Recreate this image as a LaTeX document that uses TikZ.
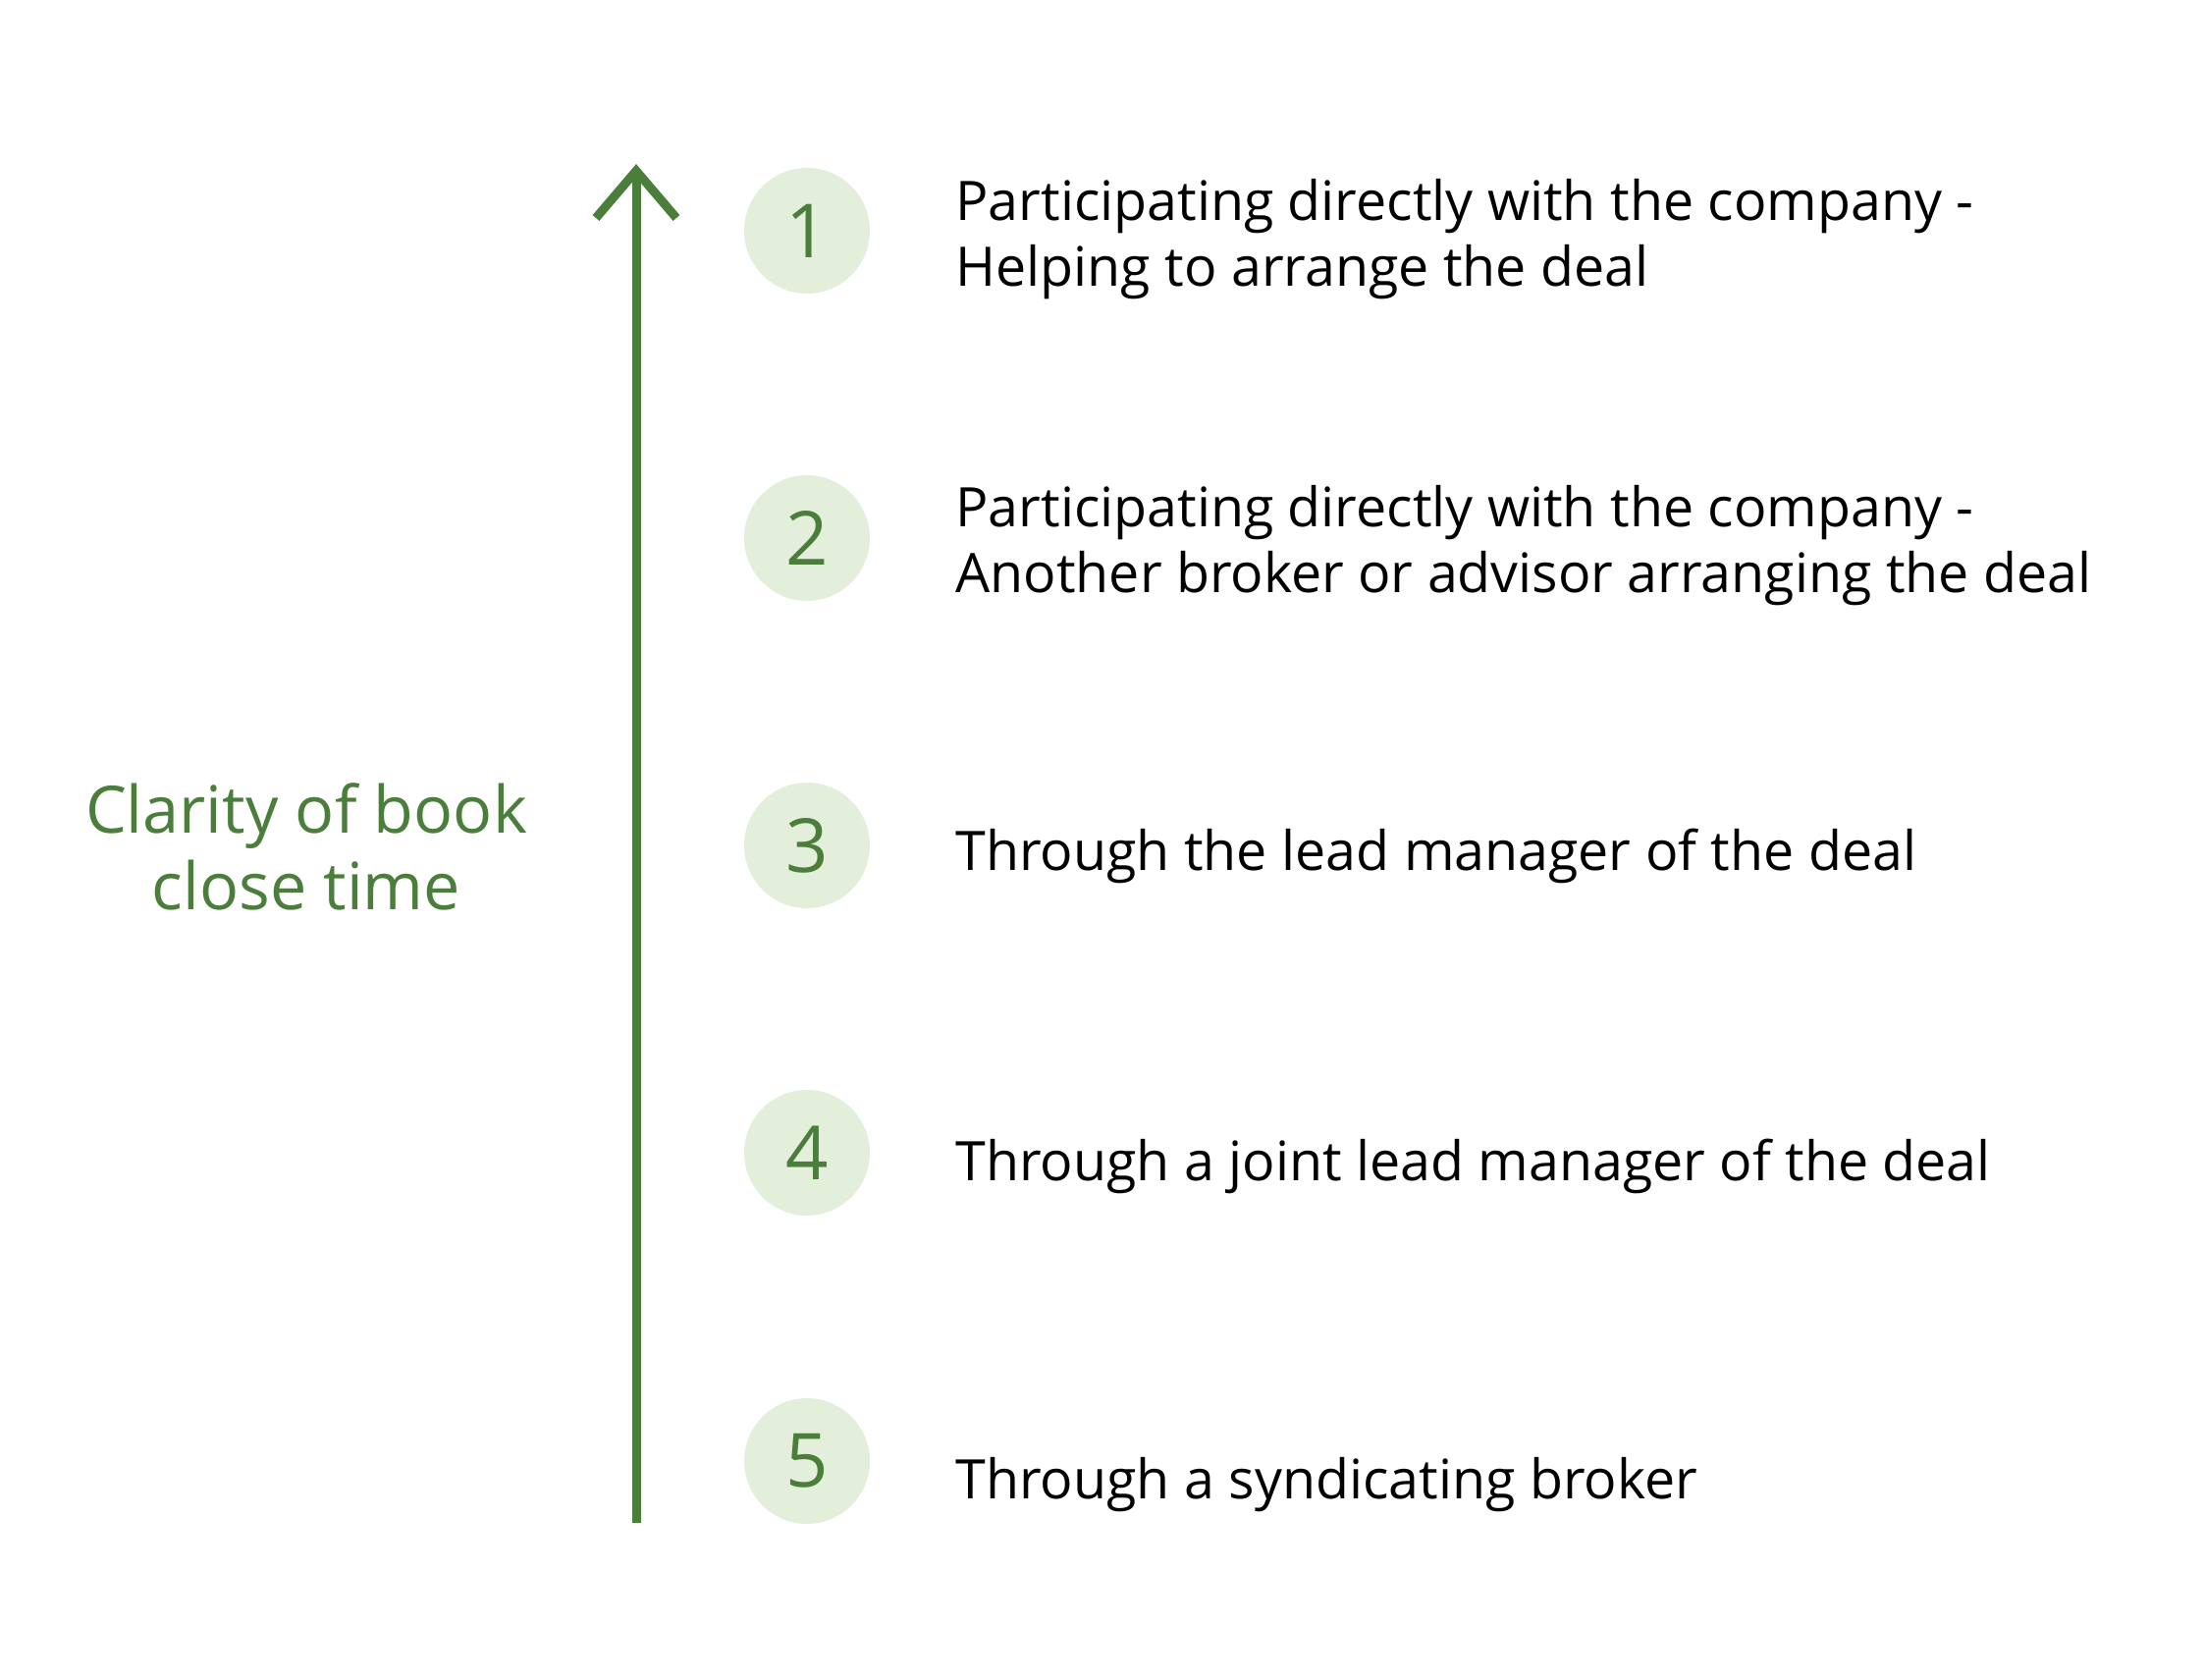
\documentclass[tikz,border=0pt]{standalone}
\usepackage{fontspec}
\setmainfont{Open Sans}
\definecolor{arrowgreen}{HTML}{4A7E3A}
\definecolor{circlefill}{HTML}{E4EFDB}
\begin{document}
\begin{tikzpicture}[x=1pt,y=-1pt,
  numcircle/.style={circle,fill=circlefill,minimum size=128pt,inner sep=0pt,text=arrowgreen,font=\fontsize{76}{80}\selectfont},
  itemtext/.style={anchor=west,align=left,text=black,font=\fontsize{55.5}{67}\selectfont},
  axislabel/.style={align=center,text=arrowgreen,font=\fontsize{66.5}{78}\selectfont}]
\useasboundingbox (0,0) rectangle (2245,1710);
\coordinate (abot) at (648,1551);
\coordinate (atop) at (648,174);
\draw[arrowgreen,line width=9pt] (abot) -- (atop);
\draw[arrowgreen,line width=9pt,line cap=butt,line join=miter] ([xshift=-41pt,yshift=-48pt]atop) -- (atop) -- ([xshift=41pt,yshift=-48pt]atop);
\node[numcircle] (c1) at (822,235) {1};
\node[numcircle] (c2) at (822,548) {2};
\node[numcircle] (c3) at (822,861) {3};
\node[numcircle] (c4) at (822,1174) {4};
\node[numcircle] (c5) at (822,1488) {5};
\node[itemtext] (t1) at (970,244) {Participating directly with the company -\\Helping to arrange the deal};
\node[itemtext] (t2) at (970,556) {Participating directly with the company -\\Another broker or advisor arranging the deal};
\node[itemtext] (t3) at (970,872) {Through the lead manager of the deal};
\node[itemtext] (t4) at (970,1188) {Through a joint lead manager of the deal};
\node[itemtext] (t5) at (970,1512) {Through a syndicating broker};
\node[axislabel] (lab) at (312,862) {Clarity of book\\close time};
\end{tikzpicture}
\end{document}
